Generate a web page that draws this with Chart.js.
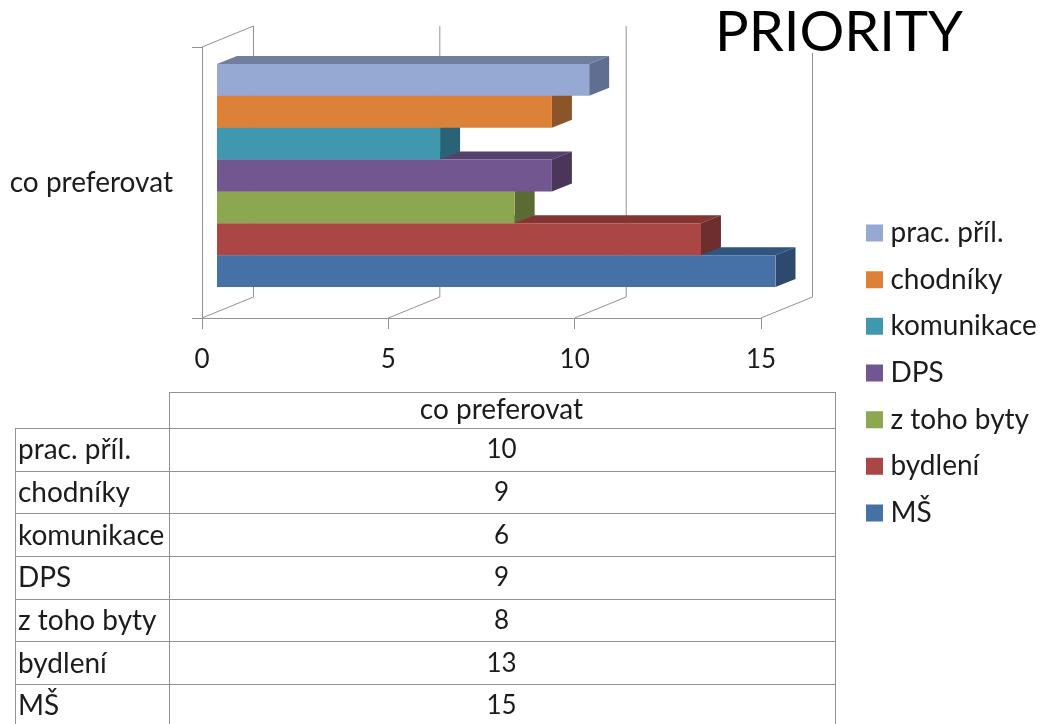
<!DOCTYPE html>
<html>
<head>
<meta charset="utf-8">
<title>PRIORITY</title>
<script src="https://cdn.jsdelivr.net/npm/chart.js@4"></script>
<style>
  html, body { margin: 0; padding: 0; background: #fff; width: 1046px; height: 724px; overflow: hidden; }
  body { position: relative; font-family: Lato, sans-serif; color: #1c1c1c; }
  /* the reference is a soft, upscaled picture */
  #myBarChart, #title, #dataTable { filter: blur(0.45px); }
  #myBarChart { position: absolute; left: 0; top: 0; }
  #title { position: absolute; left: 711px; top: -3px; padding: 0 4px; background: #fff; font-size: 56px; line-height: 66px; height: 56px; overflow: hidden; color: #000; }
  #dataTable { position: absolute; left: 15px; top: 392px; border-collapse: collapse; table-layout: fixed; width: 821px; font-size: 28px; }
  #dataTable td { border: 1.5px solid #929292; height: 41px; padding: 0 2px 3px 2px; box-sizing: border-box; white-space: nowrap; line-height: 30px; }
  #dataTable td.num { text-align: center; font-size: 26px; padding-right: 4px; }
  #dataTable tr:first-child td { height: 36px; font-size: 28px; padding-bottom: 5px; }
  #dataTable td.corner { border-left: none; border-top: none; }
  #dataTable col.first { width: 154px; }
</style>
</head>
<body>
<canvas id="myBarChart" width="1046" height="724"></canvas>
<div id="title">PRIORITY</div>
<table id="dataTable"><colgroup><col class="first"><col></colgroup><tbody></tbody></table>
<script>
const categories = ['co preferovat'];
const seriesNames = ['prac. příl.', 'chodníky', 'komunikace', 'DPS', 'z toho byty', 'bydlení', 'MŠ'];
const seriesValues = [10, 9, 6, 9, 8, 13, 15];
const tickLabels = [0, 5, 10, 15];

const frontColors = ['#95a9d2', '#dc8238', '#3f98b0', '#72568f', '#8ba750', '#aa4644', '#4571a6'];
const topColors = ['#6f7f9d', '#a5622a', '#2f7284', '#56406c', '#687d3c', '#833533', '#2f5580'];
const sideColors = ['#5f6f92', '#8c5427', '#2a6375', '#4a3659', '#5a6b33', '#6d2e2d', '#2d4970'];

const gridColor = '#929292';
const textColor = '#1c1c1c';
const fontFamily = 'Lato, sans-serif';

// walls go this far back, bars stand a bit in front of them
const wallDepth = { x: 51.5, y: -21 };
const barOffset = { x: 14.5, y: -7 };
const barDepth = { x: 20, y: -8 };

function poly(ctx, pts, color) {
  ctx.fillStyle = color;
  ctx.beginPath();
  ctx.moveTo(pts[0][0], pts[0][1]);
  pts.slice(1).forEach(function (p) { ctx.lineTo(p[0], p[1]); });
  ctx.closePath();
  ctx.fill();
}

const fake3d = {
  id: 'fake3d',
  afterLayout(chart) {
    // put the legend where it sits in the picture
    const legend = chart.legend;
    const pad = chart.options.plugins.legend.labels.padding;
    const w = legend.width, h = legend.height;
    legend.left = 872.5 - pad;
    legend.right = legend.left + w;
    legend.top = 219 - pad;
    legend.bottom = legend.top + h;
  },
  beforeDatasetsDraw(chart) {
    const ctx = chart.ctx;
    const x = chart.scales.x, area = chart.chartArea;

    // side wall, floor and back wall lines
    ctx.save();
    ctx.strokeStyle = gridColor;
    ctx.lineWidth = 1;
    x.ticks.forEach(function (t) {
      const px = x.getPixelForValue(t.value);
      ctx.beginPath();
      ctx.moveTo(px, area.bottom);
      ctx.lineTo(px + wallDepth.x, area.bottom + wallDepth.y);
      ctx.lineTo(px + wallDepth.x, area.top + wallDepth.y);
      ctx.stroke();
    });
    ctx.beginPath();
    ctx.moveTo(area.left, area.top);
    ctx.lineTo(area.left + wallDepth.x, area.top + wallDepth.y);
    ctx.stroke();
    ctx.restore();

    // top and side faces, lowest bar first so the upper ones overlap it
    ctx.save();
    ctx.translate(barOffset.x, barOffset.y);
    for (let i = chart.data.datasets.length - 1; i >= 0; i--) {
      const bar = chart.getDatasetMeta(i).data[0];
      const b = bar.getProps(['x', 'y', 'base', 'height'], true);
      const top = b.y - b.height / 2, bottom = b.y + b.height / 2;
      poly(ctx, [[b.base, top], [b.x, top], [b.x + barDepth.x, top + barDepth.y], [b.base + barDepth.x, top + barDepth.y]], topColors[i]);
      poly(ctx, [[b.x, top], [b.x + barDepth.x, top + barDepth.y], [b.x + barDepth.x, bottom + barDepth.y], [b.x, bottom]], sideColors[i]);
    }
    ctx.restore();

    // the front faces that Chart.js draws get the same shift
    ctx.save();
    ctx.translate(barOffset.x, barOffset.y);
  },
  afterDatasetsDraw(chart) {
    chart.ctx.restore();
  }
};

const chart = new Chart(document.getElementById('myBarChart').getContext('2d'), {
  type: 'bar',
  data: {
    labels: categories,
    datasets: seriesNames.map(function (name, i) {
      return { label: name, data: [seriesValues[i]], backgroundColor: frontColors[i], borderWidth: 0 };
    })
  },
  options: {
    indexAxis: 'y',
    responsive: false,
    animation: false,
    datasets: { bar: { categoryPercentage: 0.823, barPercentage: 1 } },
    layout: { padding: { top: 47, right: 40, bottom: 0, left: 0 } },
    plugins: {
      title: { display: false },
      tooltip: { enabled: false },
      legend: {
        position: 'right',
        align: 'start',
        labels: {
          boxWidth: 4,
          boxHeight: 4,
          padding: 18.67,
          color: textColor,
          font: { family: fontFamily, size: 28 },
          generateLabels(c) {
            // thick border makes the swatch bigger without moving the text
            return Chart.defaults.plugins.legend.labels.generateLabels(c).map(function (item) {
              item.strokeStyle = item.fillStyle;
              item.lineWidth = 13;
              return item;
            });
          }
        }
      }
    },
    scales: {
      x: {
        min: 0,
        max: 15,
        afterFit(scale) { scale.height = 406; },
        afterBuildTicks(scale) { scale.ticks = tickLabels.map(function (v) { return { value: v }; }); },
        border: { color: gridColor },
        grid: { drawOnChartArea: false, color: gridColor, tickLength: 11 },
        ticks: { color: textColor, padding: 15, maxRotation: 0, font: { family: fontFamily, size: 26 } }
      },
      y: {
        afterFit(scale) { scale.width = 202; },
        border: { color: gridColor },
        grid: { drawOnChartArea: false, color: gridColor, tickLength: 10 },
        ticks: { color: textColor, padding: 19, font: { family: fontFamily, size: 28 } }
      }
    }
  },
  plugins: [fake3d]
});

// the legend width depends on the font, so nudge until the plot ends at the 15 tick
chart.options.layout.padding.right += chart.chartArea.right - 761;
chart.update();

// data table under the chart
const tbody = document.querySelector('#dataTable tbody');
function addRow(first, second, isHead) {
  const tr = document.createElement('tr');
  const a = document.createElement('td');
  const b = document.createElement('td');
  a.textContent = first;
  b.textContent = second;
  b.className = 'num';
  if (isHead) a.className = 'corner';
  tr.appendChild(a);
  tr.appendChild(b);
  tbody.appendChild(tr);
}
addRow('', categories[0], true);
seriesNames.forEach(function (name, i) { addRow(name, seriesValues[i], false); });
document.querySelectorAll('#dataTable tr').forEach(function (tr, i) {
  if (i > 0) tr.firstChild.style.height = '42.67px';
});
</script>
</body>
</html>
